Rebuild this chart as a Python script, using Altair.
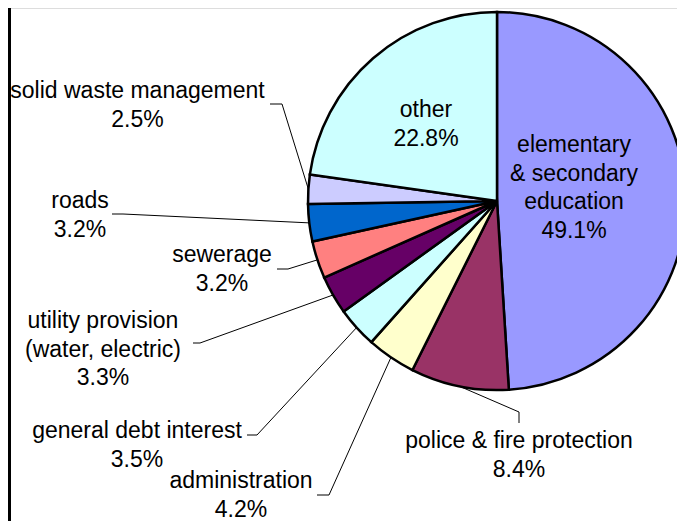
import altair as alt
import pandas as pd
import numpy as np

# ---- data ----
categories = [
    "elementary & secondary education",
    "police & fire protection",
    "administration",
    "general debt interest",
    "utility provision (water, electric)",
    "sewerage",
    "roads",
    "solid waste management",
    "other",
]
shares = [49.1, 8.4, 4.2, 3.5, 3.3, 3.2, 3.2, 2.5, 22.8]
label_lines = [
    ["elementary", "& secondary", "education", "49.1%"],
    ["police & fire protection", "8.4%"],
    ["administration", "4.2%"],
    ["general debt interest", "3.5%"],
    ["utility provision", "(water, electric)", "3.3%"],
    ["sewerage", "3.2%"],
    ["roads", "3.2%"],
    ["solid waste management", "2.5%"],
    ["other", "22.8%"],
]
colors = ["#9999FF", "#993366", "#FFFFCC", "#CCFFFF", "#660066",
          "#FF8080", "#0066CC", "#CCCCFF", "#CCFFFF"]

# ---- layout (page pixel coordinates) ----
W, H = 669, 513
OFF = 8
CX, CY, R = 497, 201, 189
# label anchor: (center x, first baseline y)
label_pos = [(574, 152), (519, 448), (241, 488), (137, 438), (103, 328),
             (222, 262), (80, 208), (137.5, 98), (426, 117)]
# leader elbow points (start, elbow); None = no leader
leaders = [None,
           [(519, 423), (519, 412)],
           [(317, 495), (329, 495)],
           [(247, 435), (257, 435)],
           [(193, 343), (200, 343)],
           [(277, 269), (288, 269)],
           [(112, 214), (123, 214)],
           [(270, 104), (282, 104)],
           None]

df = pd.DataFrame({"cat": categories, "value": shares, "idx": range(len(shares))})

xs = alt.Scale(domain=[OFF, OFF + W], range=[0, W])
ys = alt.Scale(domain=[OFF, OFF + H], range=[0, H])

pie = alt.Chart(df).mark_arc(radius=R, stroke="black", strokeWidth=2.5).encode(
    theta=alt.Theta("value:Q", stack=True),
    order=alt.Order("idx:Q"),
    color=alt.Color("cat:N", scale=alt.Scale(domain=categories, range=colors), legend=None),
    x=alt.X(datum=CX, scale=xs, axis=None),
    y=alt.Y(datum=CY, scale=ys, axis=None),
)

# leader segments, ending on the pie edge at each slice's mid-angle
total = sum(shares)
cum = np.cumsum([0] + shares[:-1])
segs = []
for i, v in enumerate(shares):
    if leaders[i] is None:
        continue
    a = (cum[i] + v / 2) / total * 2 * np.pi
    ex, ey = CX + R * np.sin(a), CY - R * np.cos(a)
    pts = leaders[i] + [(ex, ey)]
    for (x1, y1), (x2, y2) in zip(pts[:-1], pts[1:]):
        segs.append({"x": x1, "y": y1, "x2": x2, "y2": y2})
seg_df = pd.DataFrame(segs)

lines = alt.Chart(seg_df).mark_rule(color="black", strokeWidth=1).encode(
    x=alt.X("x:Q", scale=xs, axis=None),
    y=alt.Y("y:Q", scale=ys, axis=None),
    x2="x2:Q",
    y2="y2:Q",
)

lab_df = pd.DataFrame({
    "text": ["\n".join(l) for l in label_lines],
    "lx": [p[0] for p in label_pos],
    "ly": [p[1] for p in label_pos],
})
labels = alt.Chart(lab_df).mark_text(
    font="Liberation Sans", fontSize=23, color="black", align="center",
    baseline="alphabetic", lineBreak="\n", lineHeight=28.5,
).encode(
    x=alt.X("lx:Q", scale=xs, axis=None),
    y=alt.Y("ly:Q", scale=ys, axis=None),
    text="text:N",
)

border = alt.Chart(pd.DataFrame({"a": [0]})).mark_rule(color="black", strokeWidth=3).encode(
    x=alt.value(1.5), y=alt.value(0), y2=alt.value(H)
)

chart = alt.layer(pie, lines, labels, border).properties(
    width=W, height=H, padding=0, autosize=alt.AutoSizeParams(type="none"),
).configure_view(stroke=None).configure(background="white")

chart.save("out.html", embed_options={"renderer": "svg", "actions": False})
